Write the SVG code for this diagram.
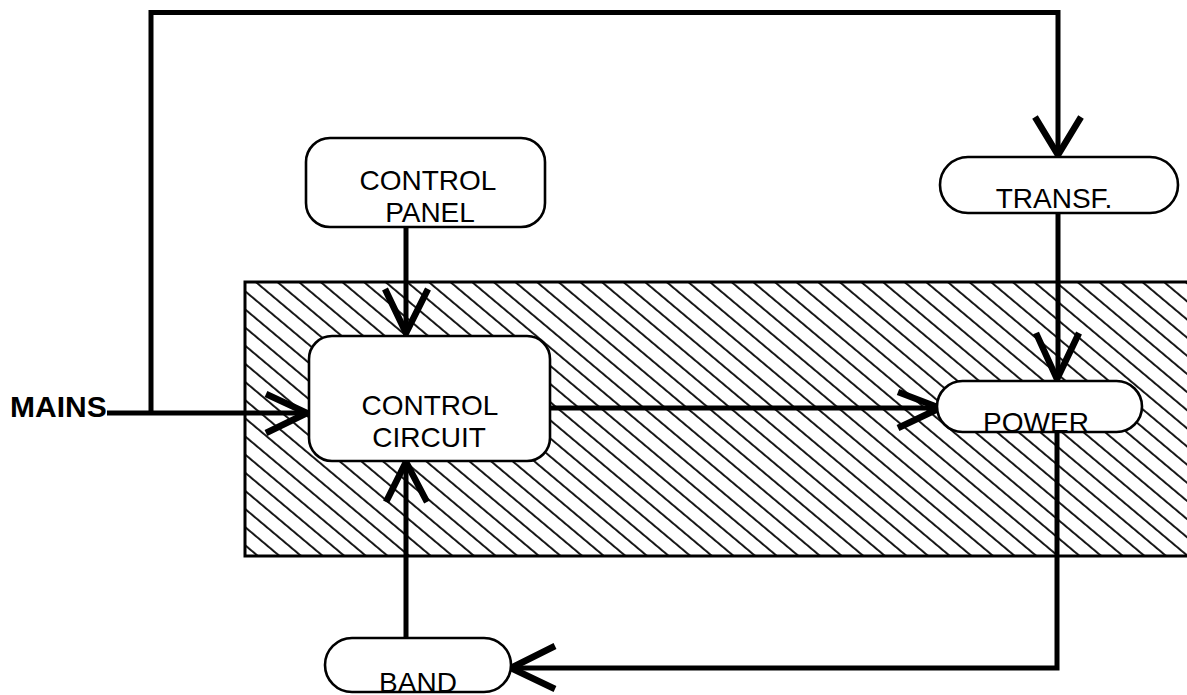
<svg xmlns="http://www.w3.org/2000/svg" width="1187" height="695" viewBox="0 0 1187 695">
  <style>
    .node { fill: #ffffff; stroke: #000000; stroke-width: 2.6; }
    .lbl { font-family: "Liberation Sans", Arial, sans-serif; font-size: 28px; fill: #000000; text-anchor: middle; }
    .bold { font-family: "Liberation Sans", Arial, sans-serif; font-size: 30px; font-weight: bold; fill: #000000; }
    .wire { fill: none; stroke: #000000; stroke-width: 5; stroke-linejoin: miter; }
    .head { fill: none; stroke: #000000; stroke-width: 6.5; stroke-linecap: butt; stroke-linejoin: miter; }
  </style>
  <defs>
    <pattern id="hatch" patternUnits="userSpaceOnUse" width="20" height="13.9" patternTransform="translate(245 282) rotate(40)">
      <line x1="-2" y1="7" x2="22" y2="7" stroke="#000000" stroke-width="1.8"/>
    </pattern>
  </defs>
  <rect width="1187" height="695" fill="#ffffff"/>

  <g id="hatched-zone">
    <rect x="245" y="282" width="960" height="274" fill="url(#hatch)" stroke="#000000" stroke-width="3"/>
  </g>

  <g id="connectors">
    <polyline class="wire" points="107,413 306,413"/>
    <polyline class="wire" points="151,413 151,12.5 1058,12.5 1058,154"/>
    <polyline class="wire" points="1058,213 1058,378"/>
    <polyline class="wire" points="406,227 406,333"/>
    <polyline class="wire" points="406,638 406,463"/>
    <polyline class="wire" points="550,408 939,408"/>
    <polyline class="wire" points="1057,432 1057,668 511,668"/>
    <polyline class="head" points="1035,117 1058,155 1081,117"/>
    <polyline class="head" points="1036,333 1057,379 1079,333"/>
    <polyline class="head" points="385,289 406,333 428,289"/>
    <polyline class="head" points="386,502 406,462 427,502"/>
    <polyline class="head" points="266,394 307,413 266,433"/>
    <polyline class="head" points="898,392 940,408 898,428"/>
    <polyline class="head" points="555,646 511,668 555,689"/>
  </g>

  <g id="mains">
    <text class="bold" x="10" y="417">MAINS</text>
  </g>

  <g id="control-panel">
    <rect class="node" x="306" y="138" width="239" height="89" rx="24" ry="24"/>
    <text class="lbl" x="428" y="190">CONTROL</text>
    <text class="lbl" x="430" y="222">PANEL</text>
  </g>

  <g id="control-circuit">
    <rect class="node" x="309" y="336" width="241" height="125" rx="23" ry="23"/>
    <text class="lbl" x="430" y="415">CONTROL</text>
    <text class="lbl" x="429" y="447">CIRCUIT</text>
  </g>

  <g id="transf">
    <rect class="node" x="940" y="157" width="238" height="56" rx="28" ry="28"/>
    <text class="lbl" x="1054" y="208">TRANSF.</text>
  </g>

  <g id="power">
    <rect class="node" x="937" y="381" width="205" height="51" rx="25.5" ry="25.5"/>
    <text class="lbl" x="1036" y="432">POWER</text>
  </g>

  <g id="band">
    <rect class="node" x="325" y="638" width="186" height="54" rx="27" ry="27"/>
    <text class="lbl" x="418" y="692">BAND</text>
  </g>
</svg>
